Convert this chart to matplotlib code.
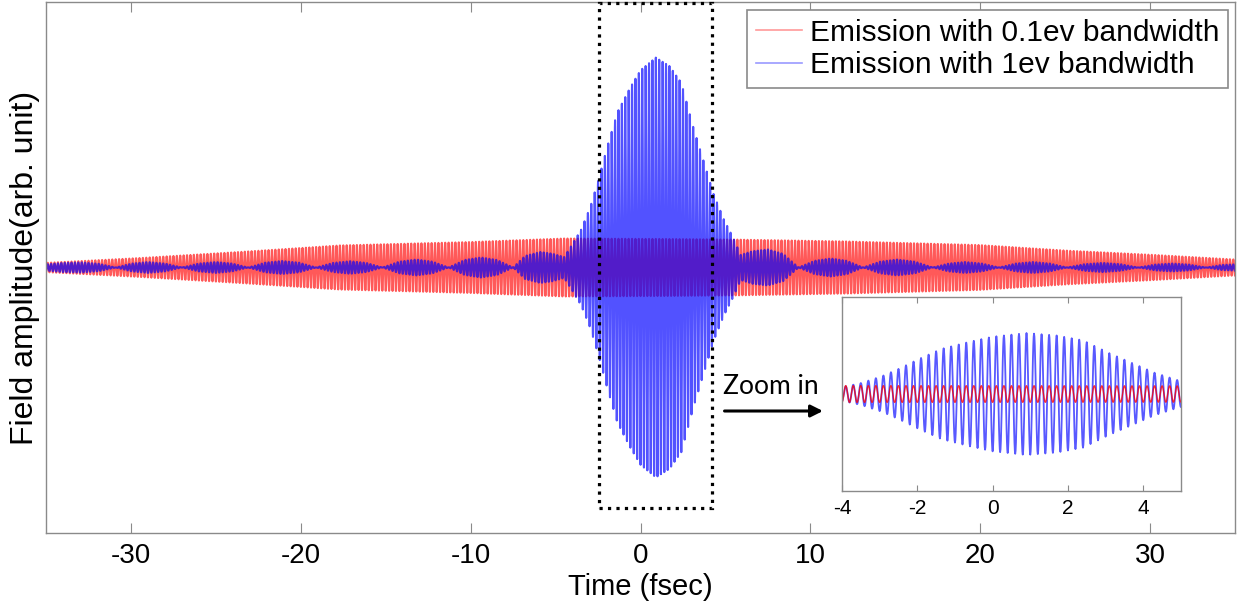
import numpy as np
import matplotlib as mpl
import matplotlib.pyplot as plt
from matplotlib.patches import Rectangle

plt.rcParams['font.family'] = ['Liberation Sans', 'DejaVu Sans']
plt.rcParams['axes.unicode_minus'] = False

# Envelopes (time in fsec, amplitude in arb. unit)
red_t = [-35.0, -29.5, -23.6, -17.7, -10.1, -4.5, 0.9, 5.5, 12.1, 19.9, 25.2, 30.2, 35.0]
red_a = [0.022, 0.045, 0.074, 0.105, 0.121, 0.138, 0.136, 0.133, 0.124, 0.107, 0.080, 0.060, 0.038]

blue_t = [-35.0, -34.0, -32.9, -31.9, -30.9, -29.95, -29.0, -28.0, -27.0, -26.0,
          -25.0, -24.05, -23.1, -22.1, -21.1, -20.1, -19.1, -18.1, -17.1, -16.15,
          -15.2, -14.2, -13.2, -12.25, -11.3, -10.35, -9.4, -8.45, -7.5, -6.8,
          -5.9, -5.2, -4.5, -4.1, -3.5, -2.95, -2.47, -1.94, -1.36, -0.59,
          0.0, 0.9, 1.7, 2.4, 3.1, 3.7, 4.3, 4.9, 5.4, 5.9,
          6.6, 7.5, 8.4, 9.3, 10.25, 11.2, 12.15, 13.1, 14.1, 15.1,
          16.15, 17.2, 18.15, 19.1, 20.1, 21.1, 22.1, 23.1, 24.1, 25.1,
          26.15, 27.2, 28.25, 29.3, 30.3, 31.3, 32.3, 33.3, 34.2, 35.0]
blue_a = [0.015, 0.022, 0.024, 0.018, 0.0, 0.019, 0.026, 0.019, 0.0, 0.019,
          0.026, 0.019, 0.0, 0.023, 0.031, 0.023, 0.0, 0.022, 0.030, 0.022,
          0.0, 0.028, 0.038, 0.028, 0.0, 0.036, 0.048, 0.036, 0.0, 0.055,
          0.074, 0.066, 0.05, 0.10, 0.18, 0.29, 0.42, 0.58, 0.74, 0.86,
          0.94, 1.0, 0.96, 0.88, 0.67, 0.51, 0.35, 0.23, 0.15, 0.06,
          0.078, 0.086, 0.065, 0.0, 0.032, 0.043, 0.032, 0.0, 0.028, 0.038,
          0.028, 0.0, 0.019, 0.026, 0.019, 0.0, 0.019, 0.026, 0.019, 0.0,
          0.016, 0.022, 0.016, 0.0, 0.014, 0.019, 0.014, 0.0, 0.012, 0.015]

period = 0.2          # carrier period (fsec), counted in the inset
box_t = (-2.47, 4.2)  # zoomed window marked with the dotted box
xticks_main = [-30, -20, -10, 0, 10, 20, 30]
xticks_zoom = [-4, -2, 0, 2, 4]

t = np.arange(-35, 35.0001, 0.01)
carrier = np.cos(2*np.pi*(t - 0.9)/period)
red = np.interp(t, red_t, red_a)*carrier
blue = np.interp(t, blue_t, blue_a)*carrier

frame = '#8a8a8a'

def style_axes(ax, fs, ticklen, pad):
    for s in ax.spines.values():
        s.set_color(frame)
        s.set_linewidth(1.0)
    ax.tick_params(axis='x', direction='in', top=True, length=ticklen, color=frame,
                   labelsize=fs, pad=pad)
    ax.set_yticks([])
    return ax

fig = plt.figure(figsize=(12.38, 6.08), dpi=100)
ax = fig.add_axes([0.0372, 0.1234, 0.9604, 0.8733])

ax.plot(t, red, c='red', lw=1.5, alpha=0.65, label='Emission with 0.1ev bandwidth')
ax.plot(t, blue, c='blue', lw=1.5, alpha=0.68, label='Emission with 1ev bandwidth')
ax.set(xlim=(-35, 35), ylim=(-1.265, 1.265))
ax.set_xticks(xticks_main)
ax = style_axes(ax, 20, 7, 7)
ax.set_xlabel('Time (fsec)', fontsize=21, labelpad=3)
ax.set_ylabel('Field amplitude(arb. unit)', fontsize=23, labelpad=4)

ax.add_patch(Rectangle((box_t[0], -1.148), box_t[1]-box_t[0], 2.41, fill=False,
                       ec='black', ls=':', lw=2.3, zorder=5, clip_on=False))

leg = ax.legend(loc='upper right', bbox_to_anchor=(0.992, 0.984), bbox_transform=fig.transFigure,
                borderaxespad=0, fontsize=21.5, handlelength=1.55, handletextpad=0.25,
                labelspacing=0.15, borderpad=0.3, fancybox=False, framealpha=1)
leg.get_frame().set_edgecolor(frame)
leg.get_frame().set_linewidth(1.2)
for h in leg.get_lines():
    h.set_linewidth(1.2)
    h.set_alpha(0.4)

# Zoom arrow
fig.text(0.584, 0.3635, 'Zoom in', fontsize=19, family=['Lato', 'DejaVu Sans'], va='center', ha='left')
ax.annotate('', xy=(0.667, 0.324), xytext=(0.583, 0.324), xycoords='figure fraction',
            arrowprops=dict(arrowstyle='-|>', lw=2.2, color='black', mutation_scale=18))

# Inset
axi = fig.add_axes([0.6801, 0.1924, 0.2738, 0.3191])
sel = (t >= -4.05) & (t <= 5.05)
axi.plot(t[sel], blue[sel], c='blue', lw=1.3, alpha=0.65)
axi.plot(t[sel], red[sel], c='red', lw=1.0, alpha=0.8)
axi.set(xlim=(-4, 5), ylim=(-1.59, 1.59))
axi.set_xticks(xticks_zoom)
axi = style_axes(axi, 15, 4, 6)

fig.savefig('out.png', dpi=100)
